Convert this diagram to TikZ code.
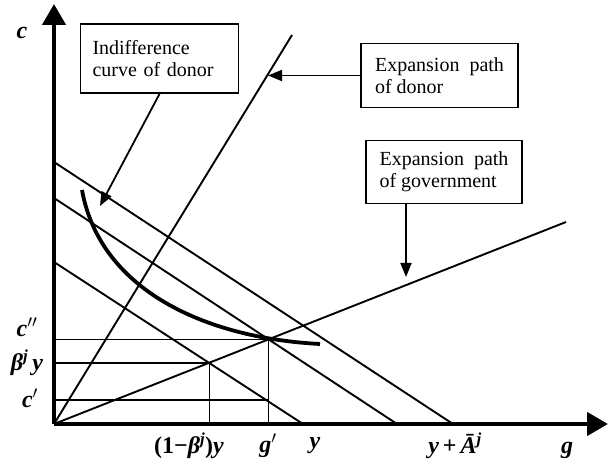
\documentclass[tikz,border=0pt]{standalone}
\usepackage{fontspec}
\setmainfont{Liberation Serif}
\usetikzlibrary{arrows.meta, intersections}

\begin{document}
\begin{tikzpicture}[
  x=1pt, y=-1pt,
  font=\fontsize{20}{22}\selectfont,
  axis/.style={line width=4.5pt, -{Triangle[length=21pt, width=23pt]}},
  budget/.style={line width=1.9pt},
  expath/.style={line width=1.9pt},
  guide/.style={line width=1pt},
  level/.style={line width=1.7pt},
  icurve/.style={line width=3.8pt},
  lblbox/.style={draw, line width=1.9pt, align=left, inner xsep=12pt},
  callout/.style={line width=1.8pt, -{Triangle[length=14pt, width=11pt]}},
  axlbl/.style={font=\fontsize{24}{26}\selectfont\bfseries\itshape, inner sep=0pt},
]
\useasboundingbox (0,0) rectangle (608,462);

% --- budget lines ---
\coordinate (b1) at (54,162); \coordinate (e1) at (453,424);
\coordinate (b2) at (54,198); \coordinate (e2) at (397,424);
\coordinate (b3) at (54,262); \coordinate (e3) at (303,424);
\draw[budget] (b1) -- (e1);
\draw[budget, name path=bl2] (b2) -- (e2);
\draw[budget, name path=bl3] (b3) -- (e3);

% --- expansion paths ---
\coordinate (O) at (54,424);
\coordinate (dend) at (292,35);
\coordinate (gvend) at (566,222);
\draw[expath] (O) -- (dend);
\draw[expath, name path=gov] (O) -- (gvend);
\path[name intersections={of=gov and bl3, by=E1}];
\path[name intersections={of=gov and bl2, by=E2}];

% --- guides ---
\draw[guide] (O |- E2) -- (E2) -- (E2 |- O);
\draw[level] (O |- E1) -- (E1);
\draw[guide] (E1) -- (E1 |- O);
\coordinate (cp) at (54,400);
\draw[level] (cp) -- (cp -| E2);

% --- indifference curve ---
\draw[icurve] (82,190) .. controls (100,290) and (205,338) .. (320,344);

% --- axes ---
\coordinate (ctop) at (54,4);
\coordinate (gend) at (608,424);
\draw[axis] (O) -- (ctop);
\draw[axis] (O) -- (gend);

% --- boxes ---
\node[lblbox, text width=134pt, minimum height=69pt] (ibox) at (159.5,58.5) {Indifference\\curve of donor};
\node[lblbox, minimum width=157pt, minimum height=64pt] (dbox) at (439.5,75.5) {Expansion\ \ path\\of donor};
\node[lblbox, minimum width=156pt, minimum height=63pt] (gbox) at (444,172) {Expansion\ \ path\\of government};

% --- callouts ---
\coordinate (ictip) at (100,206);
\coordinate (dptip) at (268,75.5);
\coordinate (gptip) at (406,277);
\draw[callout] (ibox.south) -- (ictip);
\draw[callout] (dbox.west) -- (dptip);
\draw[callout] (gbox.south -| gptip) -- (gptip);

% --- axis labels ---
\node[axlbl] (lc)   at (22,33)   {c};
\node[axlbl] (lcpp) at (27,327)  {c$''$};
\node[axlbl] (lby)  at (27,363)  {β\textsuperscript{j}\,y};
\node[axlbl] (lcp)  at (30,398)  {c$'$};
\node[axlbl] (l1by) at (189,446) {{\upshape(1−}β\textsuperscript{j}{\upshape)}y};
\node[axlbl] (lgp)  at (268,446) {g$'$};
\node[axlbl] (ly)   at (315,446) {y};
\node[axlbl] (lyA)  at (455,446) {y\,{\upshape+}\,Ā\textsuperscript{j}};
\node[axlbl] (lg)   at (567,450) {g};
\end{tikzpicture}
\end{document}
